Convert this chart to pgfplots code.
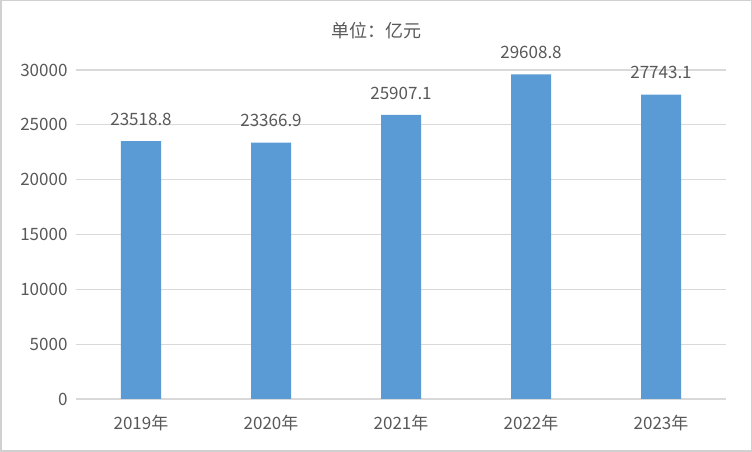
\documentclass[border=0pt]{standalone}
\usepackage{fontspec}
\setmainfont{Noto Sans CJK SC}
\usepackage{pgfplots}
\pgfplotsset{compat=1.18}
\definecolor{barblue}{HTML}{5B9BD5}
\definecolor{gridgrey}{HTML}{D9D9D9}
\definecolor{textgrey}{HTML}{595959}
\definecolor{framegrey}{HTML}{D0D0D0}

\begin{document}
\begin{tikzpicture}[x=1pt,y=1pt]
\useasboundingbox (0,0) rectangle (752,452);
\fill[white] (0,0) rectangle (752,452);
\draw[framegrey, line width=1.5pt] (0.75,0.75) rectangle (751.25,451.25);
\begin{axis}[
  at={(76pt,53pt)}, anchor=south west,
  scale only axis, width=650pt, height=329pt,
  ymin=0, ymax=30000, xmin=-0.5, xmax=4.5,
  ytick={0,5000,...,30000},
  scaled y ticks=false,
  /pgf/number format/fixed,
  /pgf/number format/1000 sep={},
  /pgf/number format/assume math mode=true,
  ymajorgrids, grid style={gridgrey, line width=1.2pt},
  axis x line*=bottom, axis y line*=left,
  x axis line style={gridgrey, line width=1.2pt, -},
  y axis line style={draw=none},
  xtick=data, xticklabels={2019年,2020年,2021年,2022年,2023年},
  major tick length=0pt,
  tick label style={font=\fontsize{17}{20}\selectfont, color=textgrey},
  yticklabel style={xshift=-5pt},
  xticklabel style={yshift=-13pt},
  ybar, bar width=40pt,
  point meta=explicit symbolic,
  nodes near coords,
  every node near coord/.append style={font=\fontsize{17}{20}\selectfont, color=textgrey, anchor=south, yshift=12pt},
]
\addplot[fill=barblue, draw=none] coordinates {
  (0,23518.8)[23518.8]
  (1,23366.9)[23366.9]
  (2,25907.1)[25907.1]
  (3,29608.8)[29608.8]
  (4,27743.1)[27743.1]
};
\end{axis}
\node[font=\fontsize{18}{21}\selectfont, color=textgrey] at (376,421) {单位：亿元};
\end{tikzpicture}
\end{document}
